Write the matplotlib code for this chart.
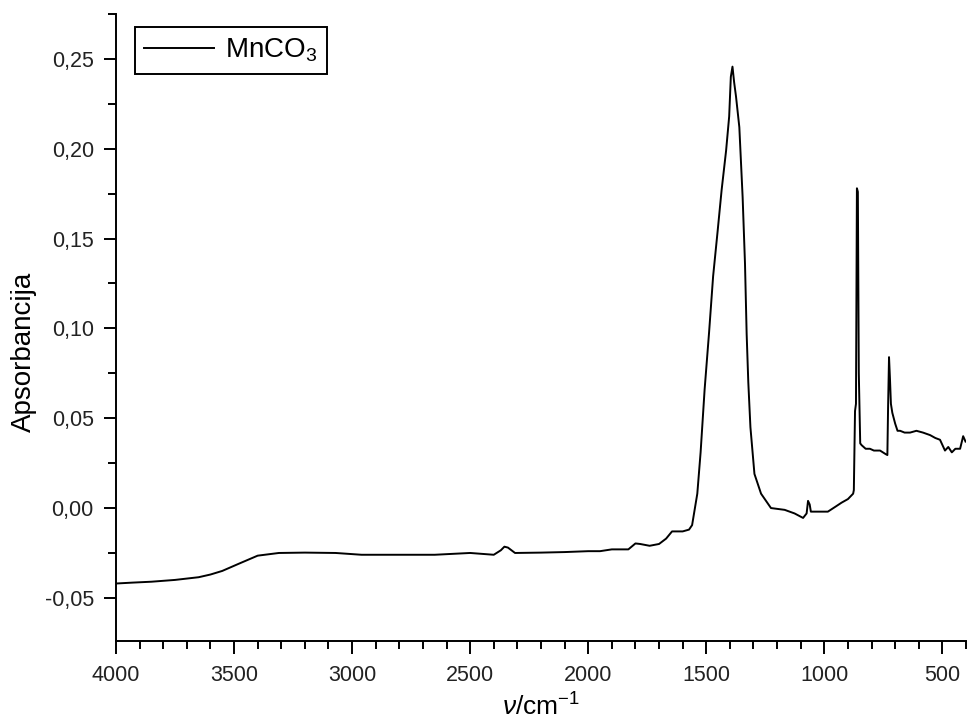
import numpy as np
import matplotlib
matplotlib.use('Agg')
import matplotlib.pyplot as plt
from matplotlib.ticker import MultipleLocator, FuncFormatter

plt.rcParams['font.family'] = ['Liberation Sans', 'DejaVu Sans']
plt.rcParams['mathtext.fontset'] = 'custom'
plt.rcParams['mathtext.rm'] = 'Liberation Sans'
plt.rcParams['mathtext.it'] = 'Liberation Sans:italic'

# Spektar MnCO3 (valni broj / cm^-1, apsorbancija)
valni_broj = [4000, 3930, 3850, 3750, 3650, 3600, 3550, 3480, 3400, 3310,
              3200, 3070, 2960, 2800, 2650, 2500, 2400, 2370, 2355, 2340,
              2310, 2200, 2100, 2000, 1950, 1900, 1830, 1800, 1780, 1740,
              1700, 1670, 1645, 1600, 1573, 1560, 1538, 1524, 1507, 1488,
              1471, 1452, 1435, 1416, 1403, 1396, 1389, 1382, 1374, 1360,
              1346, 1336, 1329, 1322, 1313, 1296, 1268, 1226, 1168, 1126,
              1090, 1075, 1069, 1062, 1057, 1020, 985, 950, 927, 900,
              878, 875, 870, 866, 862, 858, 854, 848, 842, 825,
              807, 790, 764, 740, 733, 730, 726, 722, 718, 712,
              700, 690, 679, 660, 637, 610, 582, 552, 530, 510,
              489, 475, 460, 445, 425, 412, 402]
apsorbancija = [-0.042, -0.0415, -0.041, -0.040, -0.0385, -0.037, -0.035, -0.031, -0.0265, -0.025,
                -0.0248, -0.025, -0.026, -0.026, -0.026, -0.025, -0.026, -0.0235, -0.0215, -0.022,
                -0.025, -0.0248, -0.0245, -0.024, -0.024, -0.023, -0.023, -0.0197, -0.020, -0.021,
                -0.020, -0.017, -0.013, -0.013, -0.012, -0.0095, 0.008, 0.031, 0.066, 0.098,
                0.129, 0.154, 0.177, 0.199, 0.218, 0.240, 0.2457, 0.237, 0.229, 0.212,
                0.173, 0.136, 0.097, 0.070, 0.045, 0.019, 0.008, 0.000, -0.001, -0.003,
                -0.0055, -0.003, 0.004, 0.002, -0.002, -0.002, -0.002, 0.001, 0.003, 0.005,
                0.008, 0.010, 0.054, 0.058, 0.178, 0.176, 0.075, 0.036, 0.035, 0.033,
                0.033, 0.032, 0.032, 0.030, 0.0295, 0.056, 0.084, 0.072, 0.058, 0.053,
                0.047, 0.043, 0.043, 0.042, 0.042, 0.043, 0.042, 0.0406, 0.039, 0.038,
                0.032, 0.034, 0.031, 0.033, 0.033, 0.040, 0.037]

fig = plt.figure(figsize=(9.69, 7.28), dpi=100)
ax = fig.add_axes([0.1197, 0.1195, 0.8772, 0.8613])

ax.plot(valni_broj, apsorbancija, color='black', lw=1.4, label=r'MnCO$_3$')

ax.set_xlim(4000, 400)
ax.set_ylim(-0.074, 0.275)

ax.spines['top'].set_visible(False)
ax.spines['right'].set_visible(False)
for s in ['left', 'bottom']:
    ax.spines[s].set_linewidth(1.4)

ax.xaxis.set_major_locator(MultipleLocator(500))
ax.xaxis.set_minor_locator(MultipleLocator(100))
ax.yaxis.set_major_locator(MultipleLocator(0.05))
ax.yaxis.set_minor_locator(MultipleLocator(0.025))
ax.yaxis.set_major_formatter(FuncFormatter(lambda v, p: f'{v:.2f}'.replace('.', ',').replace('-0,00', '0,00')))

ax.tick_params(which='major', direction='out', length=9, width=1.4, labelsize=15.5,
               colors='black', labelcolor='#222222')
ax.tick_params(which='minor', direction='out', length=5.5, width=1.4)
ax.tick_params(axis='x', pad=8)
ax.tick_params(axis='y', pad=7)

ax.set_ylabel('Apsorbancija', fontsize=20)
ax.yaxis.set_label_coords(-0.093, 0.461)
ax.set_xlabel(r'$\it{\nu}$/cm$^{-1}$', fontsize=19)
ax.xaxis.set_label_coords(0.5, -0.084)

leg = ax.legend(loc='upper left', bbox_to_anchor=(0.022, 0.979), borderaxespad=0,
                fancybox=False, edgecolor='black', framealpha=1, fontsize=20,
                handlelength=2.5, handletextpad=0.4, borderpad=0.35)
leg.get_frame().set_linewidth(1.4)

fig.savefig('out.png', dpi=100)
